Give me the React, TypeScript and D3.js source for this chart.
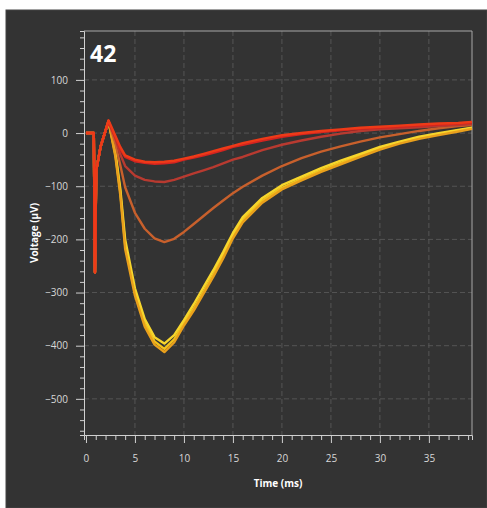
import * as d3 from 'd3';
import React, { useEffect, useRef } from 'react';

// time axis shared by all traces (ms)
const timeMs = [0, 0.8, 0.92, 1.05, 1.5, 2.3, 3, 3.5, 4, 5, 6, 7, 8, 9, 10, 11, 12, 13, 14, 15, 16, 18, 20, 22, 24, 26, 28, 30, 32, 34, 36, 38, 39.4];

// voltage traces (µV)
const yellow1 = [0, 0, -262, -70, -25, 22, -40, -110, -210, -300, -358, -392, -406, -388, -358, -330, -298, -266, -230, -192, -163, -127, -103, -86, -70, -56, -42, -29, -18, -9, -2, 5, 9];
const yellow2 = [0, 0, -262, -70, -25, 22, -36, -104, -200, -292, -350, -384, -396, -380, -352, -322, -290, -258, -224, -188, -158, -122, -98, -82, -66, -52, -39, -26, -16, -7, 0, 6, 10];
const yellow3 = [0, 0, -262, -70, -25, 22, -44, -116, -218, -306, -364, -398, -412, -394, -362, -334, -302, -270, -236, -198, -168, -131, -106, -89, -73, -59, -45, -31, -20, -11, -4, 3, 8];
const brown = [0, 0, -262, -70, -25, 22, -20, -60, -102, -150, -180, -198, -205, -199, -186, -171, -156, -141, -127, -113, -101, -80, -62, -47, -35, -25, -16, -8, -2, 4, 9, 13, 15];
const salmon = [0, 0, -262, -70, -25, 22, -10, -40, -62, -80, -88, -91, -92, -88, -82, -76, -70, -64, -57, -50, -45, -32, -22, -14, -7, -1, 4, 7, 9, 11, 13, 15, 17];
const red1 = [0, 0, -262, -70, -25, 22, -8, -30, -45, -53, -56, -58, -57, -55, -50, -46, -42, -37, -32, -26, -22, -14, -7, -2, 2, 5, 8, 10, 12, 14, 16, 18, 20];
const red2 = [0, 0, -262, -70, -25, 24, -5, -26, -42, -50, -54, -55, -54, -52, -48, -44, -39, -34, -29, -24, -19, -11, -4, 0, 4, 7, 10, 12, 14, 16, 18, 19, 21];

const traces = [yellow1, yellow2, yellow3, brown, salmon, red1, red2];
const traceColors = ['#f2c21a', '#f7d62c', '#e9a01c', '#c8602c', '#b83a30', '#d42420', '#ee3a18'];

const xTicks = [0, 5, 10, 15, 20, 25, 30, 35];
const yTicks = [100, 0, -100, -200, -300, -400, -500];

const App = () => {
    const ref = useRef<SVGSVGElement>(null);

    useEffect(() => {
        const svg = d3.select(ref.current);
        svg.selectAll('*').remove();

        const left = 84, right = 472, top = 31, bottom = 435;
        const x = d3.scaleLinear().domain([-0.2, 39.4]).range([left, right]);
        const y = d3.scaleLinear().domain([-568, 192]).range([bottom, top]);
        const font = "'Open Sans', 'DejaVu Sans', sans-serif";

        // panel background
        svg.append('rect').attr('width', 487).attr('height', 508).attr('fill', '#ffffff');
        svg.append('rect')
            .attr('x', 6).attr('y', 10).attr('width', 481).attr('height', 498)
            .attr('fill', '#333333').attr('stroke', '#454545');

        // grid
        const grid = svg.append('g').attr('stroke', '#555555').attr('stroke-width', 1).attr('stroke-dasharray', '5,3');
        grid.selectAll('line.v').data(xTicks.filter(d => d > 0)).enter().append('line')
            .attr('x1', d => x(d)).attr('x2', d => x(d)).attr('y1', top).attr('y2', bottom);
        grid.selectAll('line.h').data(yTicks).enter().append('line')
            .attr('x1', left).attr('x2', right).attr('y1', d => y(d)).attr('y2', d => y(d));

        // frame top / right
        svg.append('path')
            .attr('d', `M${left},${top}H${right}V${bottom}`)
            .attr('fill', 'none').attr('stroke', '#a8a8a8').attr('stroke-width', 1);

        // traces
        const line = d3.line<number>()
            .x((d, i) => x(timeMs[i]))
            .y(d => y(d));
        svg.append('g')
            .selectAll('path').data(traces).enter().append('path')
            .attr('d', d => line(d))
            .attr('fill', 'none')
            .attr('stroke', (d, i) => traceColors[i])
            .attr('stroke-width', 2.4)
            .attr('stroke-linejoin', 'round');

        // axes
        const xAxis = svg.append('g').attr('transform', `translate(0,${bottom})`)
            .call(d3.axisBottom(x).tickValues(d3.range(0, 40, 1)).tickSize(5).tickFormat(() => ''));
        xAxis.selectAll('.tick line').filter((d: any) => d % 5 === 0).attr('y2', 8);
        xAxis.selectAll('path, line').attr('stroke', '#d0d0d0');

        const xLab = svg.append('g').attr('transform', `translate(0,${bottom})`)
            .call(d3.axisBottom(x).tickValues(xTicks).tickSize(0).tickPadding(20));
        xLab.select('.domain').remove();
        xLab.selectAll('text').attr('fill', '#d8d8d8').style('font-family', font).style('font-size', '10px');

        const yAxis = svg.append('g').attr('transform', `translate(${left},0)`)
            .call(d3.axisLeft(y).tickValues(d3.range(-560, 200, 20)).tickSize(4).tickFormat(() => ''));
        yAxis.selectAll('.tick line').filter((d: any) => d % 100 === 0).attr('x2', -8);
        yAxis.selectAll('path, line').attr('stroke', '#d0d0d0');

        const yLab = svg.append('g').attr('transform', `translate(${left},0)`)
            .call(d3.axisLeft(y).tickValues(yTicks).tickSize(0).tickPadding(16));
        yLab.select('.domain').remove();
        yLab.selectAll('text').attr('fill', '#d8d8d8').style('font-family', font).style('font-size', '10px');

        // titles
        svg.append('text')
            .attr('x', 90).attr('y', 62)
            .attr('fill', '#ffffff').style('font-family', font).style('font-size', '23px').style('font-weight', 'bold')
            .text('42');

        svg.append('text')
            .attr('transform', `translate(38,233) rotate(-90)`)
            .attr('text-anchor', 'middle')
            .attr('fill', '#ffffff').style('font-family', font).style('font-size', '10px').style('font-weight', 'bold')
            .text('Voltage (µV)');

        svg.append('text')
            .attr('x', (left + right) / 2).attr('y', 487)
            .attr('text-anchor', 'middle')
            .attr('fill', '#ffffff').style('font-family', font).style('font-size', '10px').style('font-weight', 'bold')
            .text('Time (ms)');
    }, []);

    return (
        <svg ref={ref} width={487} height={508} style={{ position: 'absolute', left: 0, top: 0, display: 'block' }} />
    );
};

export default App;
